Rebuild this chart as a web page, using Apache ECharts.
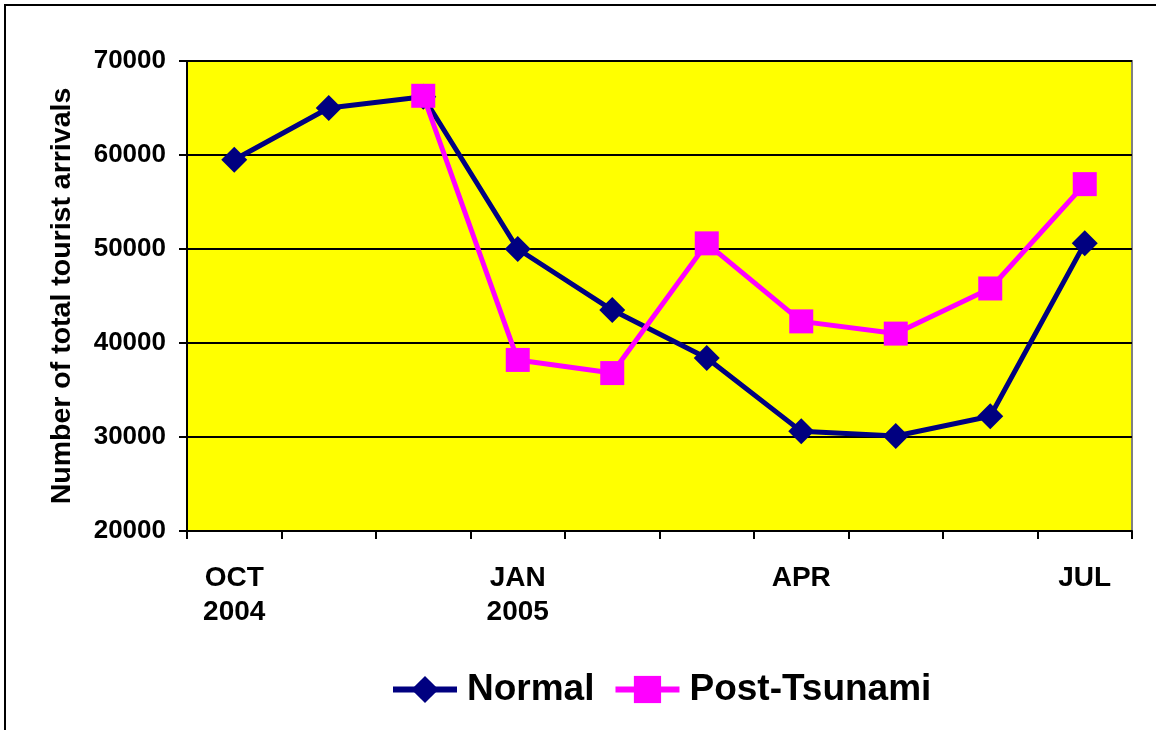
<!DOCTYPE html>
<html><head><meta charset="utf-8">
<script src="https://cdn.jsdelivr.net/npm/echarts@6/dist/echarts.min.js"></script>
<style>html,body{margin:0;padding:0;background:#fff}#c{width:1156px;height:730px}</style>
</head><body><div id="c"></div>
<script>
const categories = ['OCT\n2004','NOV','DEC','JAN\n2005','FEB','MAR','APR','MAY','JUN','JUL'];
const shownLabels = [0,3,6,9];
const normal = [59500, 65000, 66200, 50000, 43500, 38400, 30600, 30100, 32200, 50600];
const postTsunami = [null, null, 66300, 38200, 36800, 50600, 42300, 41000, 45800, 56900];
const yTicks = [20000, 30000, 40000, 50000, 60000, 70000];

const font = 'Liberation Sans, Arial, sans-serif';
const chart = echarts.init(document.getElementById('c'));
chart.setOption({
  animation: false,
  backgroundColor: '#fff',
  graphic: [{type:'rect', shape:{x:5,y:5,width:1170,height:750}, style:{fill:'none', stroke:'#000', lineWidth:2}, z:-1}],
  grid: {left:187, top:61, right:24, bottom:199, show:true, backgroundColor:'#ffff00', borderColor:'#808080', borderWidth:2},
  legend: {
    top: 671, left: 390, padding: 0, itemWidth: 64, itemHeight: 34, itemGap: 18,
    lineStyle: {width: 6},
    textStyle: {fontFamily: font, fontWeight: 'bold', fontSize: 37, color: '#000', padding: [0,0,0,5]},
    data: ['Normal', 'Post-Tsunami']
  },
  xAxis: {
    type: 'category', data: categories, boundaryGap: true,
    axisLine: {lineStyle: {color: '#000', width: 2}},
    axisTick: {show: true, length: 8, lineStyle: {color: '#000', width: 2}},
    axisLabel: {
      interval: 0, margin: 30, lineHeight: 34,
      fontFamily: font, fontWeight: 'bold', fontSize: 28, color: '#000',
      formatter: (v, i) => shownLabels.includes(i) ? v : ''
    }
  },
  yAxis: {
    type: 'value', min: yTicks[0], max: yTicks[yTicks.length-1], interval: 10000,
    name: 'Number of total tourist arrivals', nameLocation: 'middle', nameGap: 110,
    nameTextStyle: {fontFamily: font, fontWeight: 'bold', fontSize: 28.5, color: '#000'},
    axisLine: {show: true, lineStyle: {color: '#000', width: 2}},
    axisTick: {show: true, length: 8, lineStyle: {color: '#000', width: 2}},
    axisLabel: {margin: 21, fontFamily: font, fontWeight: 'bold', fontSize: 26, color: '#000',
      formatter: v => String(v)},
    splitLine: {show: true, lineStyle: {color: '#000', width: 2}}
  },
  series: [
    {name: 'Normal', type: 'line', data: normal, symbol: 'diamond', symbolSize: 26,
     itemStyle: {color: '#000080'}, lineStyle: {color: '#000080', width: 5}, z: 2},
    {name: 'Post-Tsunami', type: 'line', data: postTsunami, symbol: 'rect', symbolSize: 24,
     itemStyle: {color: '#ff00ff'}, lineStyle: {color: '#ff00ff', width: 5}, z: 3}
  ]
});
</script></body></html>
